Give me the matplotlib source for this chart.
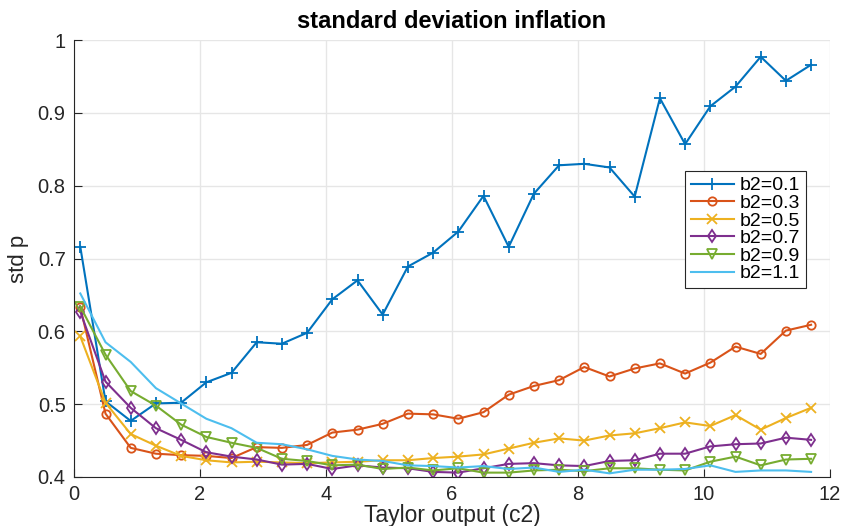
import numpy as np
import matplotlib
matplotlib.use('Agg')
import matplotlib.pyplot as plt

plt.rcParams['font.family'] = ['Liberation Sans', 'DejaVu Sans']

# x positions (Taylor output c2)
c2 = [0.1, 0.5, 0.9, 1.3, 1.7, 2.1, 2.5, 2.9, 3.3, 3.7, 4.1, 4.5, 4.9, 5.3, 5.7,
      6.1, 6.5, 6.9, 7.3, 7.7, 8.1, 8.5, 8.9, 9.3, 9.7, 10.1, 10.5, 10.9, 11.3, 11.7]

# std p for each b2
b2_01 = [0.716, 0.504, 0.477, 0.501, 0.502, 0.530, 0.543, 0.585, 0.583, 0.598, 0.644, 0.670, 0.623, 0.689, 0.708,
         0.737, 0.786, 0.716, 0.789, 0.828, 0.830, 0.825, 0.785, 0.920, 0.857, 0.909, 0.936, 0.977, 0.944, 0.966]
b2_03 = [0.633, 0.487, 0.440, 0.432, 0.430, 0.429, 0.426, 0.441, 0.440, 0.444, 0.461, 0.465, 0.473, 0.487, 0.486,
         0.480, 0.489, 0.513, 0.525, 0.533, 0.551, 0.538, 0.549, 0.556, 0.542, 0.557, 0.579, 0.569, 0.601, 0.609]
b2_05 = [0.593, 0.502, 0.459, 0.443, 0.429, 0.423, 0.420, 0.421, 0.420, 0.419, 0.420, 0.421, 0.423, 0.423, 0.426,
         0.428, 0.431, 0.439, 0.447, 0.453, 0.450, 0.457, 0.460, 0.467, 0.475, 0.470, 0.485, 0.465, 0.481, 0.495]
b2_07 = [0.627, 0.531, 0.495, 0.467, 0.451, 0.434, 0.428, 0.424, 0.417, 0.418, 0.411, 0.416, 0.413, 0.412, 0.407,
         0.406, 0.412, 0.418, 0.419, 0.416, 0.415, 0.422, 0.423, 0.432, 0.432, 0.442, 0.445, 0.446, 0.454, 0.451]
b2_09 = [0.634, 0.568, 0.518, 0.498, 0.472, 0.455, 0.447, 0.440, 0.425, 0.422, 0.416, 0.417, 0.411, 0.413, 0.409,
         0.412, 0.406, 0.406, 0.409, 0.410, 0.408, 0.412, 0.412, 0.410, 0.409, 0.421, 0.428, 0.416, 0.424, 0.425]
b2_11 = [0.652, 0.585, 0.558, 0.522, 0.501, 0.480, 0.467, 0.447, 0.445, 0.438, 0.429, 0.424, 0.422, 0.416, 0.415,
         0.413, 0.415, 0.411, 0.413, 0.407, 0.410, 0.405, 0.410, 0.410, 0.411, 0.416, 0.407, 0.409, 0.409, 0.407]

series = [b2_01, b2_03, b2_05, b2_07, b2_09, b2_11]
labels = ['b2=0.1', 'b2=0.3', 'b2=0.5', 'b2=0.7', 'b2=0.9', 'b2=1.1']
colors = ['#0072BD', '#D95319', '#EDB120', '#7E2F8E', '#77AC30', '#4DBEEE']
markers = ['+', 'o', 'x', 'd', 'v', None]
msizes = [8, 6, 6.5, 6, 6.5, 0]

fig = plt.figure(figsize=(8.44, 5.26), dpi=100)
ax = fig.add_axes([74 / 844, 1 - 477 / 526, (830 - 74) / 844, (477 - 40) / 526])

for y, lab, col, mk, ms in zip(series, labels, colors, markers, msizes):
    ax.plot(c2, y, color=col, marker=mk, markersize=ms, markerfacecolor='none',
            markeredgewidth=1.3, linewidth=1.5, label=lab)

ax.set_xlim(0, 12)
ax.set_ylim(0.4, 1)
ax.set_xticks(np.arange(0, 13, 2))
ax.set_yticks([0.4, 0.5, 0.6, 0.7, 0.8, 0.9, 1])
ax.set_yticklabels(['0.4', '0.5', '0.6', '0.7', '0.8', '0.9', '1'])
ax.grid(True, color='#e6e6e6', linewidth=1)
ax.set_axisbelow(True)
ax.spines['top'].set_visible(False)
ax.spines['right'].set_visible(False)
for s in ['left', 'bottom']:
    ax.spines[s].set_color('#262626')
    ax.spines[s].set_linewidth(0.8)
ax.tick_params(direction='in', length=6, width=0.8, color='#262626',
               labelsize=14.5, labelcolor='#262626', pad=6)

ax.set_title('standard deviation inflation', fontsize=17, fontweight='bold', pad=9)
ax.set_xlabel('Taylor output (c2)', fontsize=16.5, color='#262626', labelpad=0)
ax.set_ylabel('std p', fontsize=16, color='#262626', labelpad=6)

leg = ax.legend(loc='upper left', bbox_to_anchor=((685 - 74) / 756, (477 - 171) / 437),
                borderaxespad=0, fontsize=14, handlelength=2.2, handletextpad=0.3,
                labelspacing=0.0, borderpad=0.3, frameon=True, fancybox=False, framealpha=1)
leg.get_frame().set_edgecolor('#262626')
leg.get_frame().set_linewidth(0.8)

fig.savefig('out.png', dpi=100)
